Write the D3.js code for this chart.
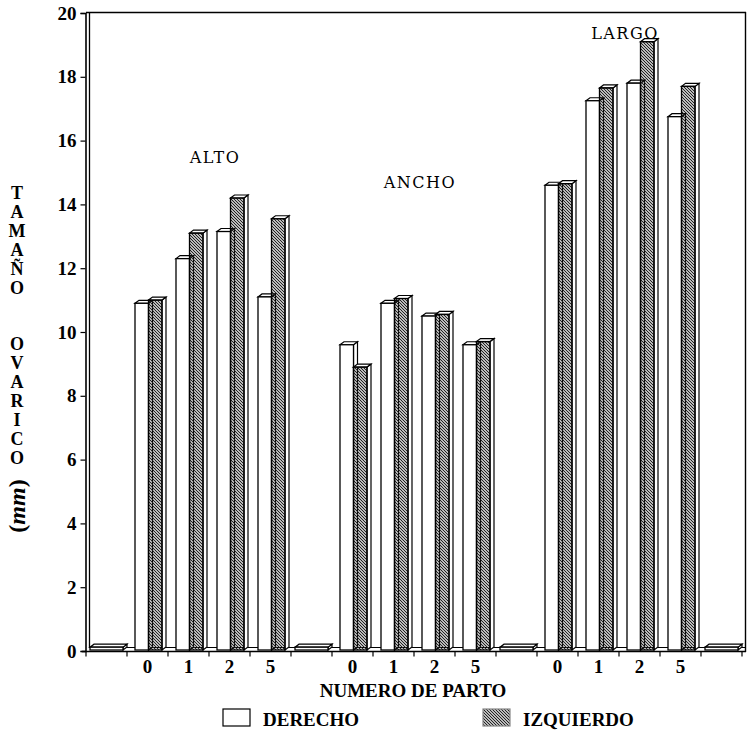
<!DOCTYPE html>
<html>
<head>
<meta charset="utf-8">
<script src="https://cdn.jsdelivr.net/npm/d3@7"></script>
<style>
  body { margin: 0; background: #fff; }
  svg { display: block; }
  .serif { font-family: "Liberation Serif", "Times New Roman", Times, serif; font-weight: bold; }
</style>
</head>
<body>
<script>
var grupos   = ["ALTO", "ANCHO", "LARGO"];
var partos   = ["0", "1", "2", "5"];
var derecho   = [10.9, 12.3, 13.15, 11.1,   9.6, 10.9, 10.5, 9.6,   14.6, 17.25, 17.8, 16.75];
var izquierdo = [11.0, 13.1, 14.2, 13.55,   8.9, 11.05, 10.55, 9.7,  14.65, 17.65, 19.1, 17.7];
var yTicks   = [0, 2, 4, 6, 8, 10, 12, 14, 16, 18, 20];
var grupoLabelAt = [15.3, 14.5, 19.2];   // height of the group captions, in mm
var gapValue = 0.12;                     // the flat boxes between groups
var series   = ["DERECHO", "IZQUIERDO"];

var W = 750, H = 742;
var depth = 4, rise = 3;

var svg = d3.select("body").append("svg")
    .attr("width", W)
    .attr("height", H);

var defs = svg.append("defs");
defs.append("pattern")
    .attr("id", "hatch")
    .attr("patternUnits", "userSpaceOnUse")
    .attr("width", 3).attr("height", 3)
    .append("path")
    .attr("d", "M-1,-1 L4,4 M-1,2 L1,4 M2,-1 L4,1")
    .attr("stroke", "#1a1a1a").attr("stroke-width", 1.15);

// slots: gap, 4 partos, gap, 4 partos, gap, 4 partos, gap
var slots = ["g0"];
grupos.forEach(function(g, i) {
  partos.forEach(function(p) { slots.push(g + "|" + p); });
  slots.push("g" + (i + 1));
});

var x0 = d3.scaleBand().domain(slots).range([86, 742]);
var x1 = d3.scaleBand().domain(series).range([8, 35]);
var y  = d3.scaleLinear().domain([0, 20]).range([651, 13]);

var rows = [];
grupos.forEach(function(g, gi) {
  partos.forEach(function(p, pi) {
    var k = gi * 4 + pi;
    rows.push({ slot: g + "|" + p, parto: p, values: [
      { s: "DERECHO", v: derecho[k] },
      { s: "IZQUIERDO", v: izquierdo[k] }
    ]});
  });
});

// frame
svg.append("line").attr("x1", 86).attr("x2", 746).attr("y1", 12.5).attr("y2", 12.5)
    .attr("stroke", "#000").attr("stroke-width", 1.6);
svg.append("line").attr("x1", 745.5).attr("x2", 745.5).attr("y1", 12).attr("y2", 652)
    .attr("stroke", "#000").attr("stroke-width", 1.4);
svg.append("line").attr("x1", 89.5).attr("x2", 89.5).attr("y1", 13).attr("y2", 648)
    .attr("stroke", "#000").attr("stroke-width", 1.3);
svg.append("line").attr("x1", 89).attr("x2", 745).attr("y1", 647.5).attr("y2", 647.5)
    .attr("stroke", "#000").attr("stroke-width", 1);

// y axis
var yAxis = d3.axisLeft(y).tickValues(yTicks).tickSize(5).tickFormat(d3.format("d"));
var gy = svg.append("g").attr("transform", "translate(85.5,0)").call(yAxis);
gy.attr("font-family", null).attr("font-size", null);
gy.select(".domain").attr("stroke-width", 1.6);
gy.selectAll(".tick line").attr("stroke-width", 1.2);
gy.selectAll("text")
    .attr("x", -9)
    .attr("class", "serif")
    .style("font-size", "19px");

// x axis: ticks on slot boundaries
var bounds = slots.map(function(s) { return x0(s); }).concat([x0.range()[1]]);
var gx = svg.append("g").attr("transform", "translate(0,651.5)");
gx.append("line").attr("x1", 82).attr("x2", 746).attr("stroke", "#000").attr("stroke-width", 1.6);
gx.selectAll(".bt").data(bounds).enter().append("line")
    .attr("x1", function(d) { return d; }).attr("x2", function(d) { return d; })
    .attr("y1", 0).attr("y2", 5)
    .attr("stroke", "#000").attr("stroke-width", 1.2);
gx.selectAll(".lbl").data(rows).enter().append("text")
    .attr("class", "serif")
    .attr("x", function(d) { return x0(d.slot) + x0.bandwidth() / 2; })
    .attr("y", 21)
    .attr("text-anchor", "middle")
    .style("font-size", "19px")
    .text(function(d) { return d.parto; });

function box(g, x, w, top, bottom, fill) {
  // right face
  g.append("path")
    .attr("d", "M" + (x + w) + "," + bottom + "L" + (x + w + depth) + "," + (bottom - rise) +
               "L" + (x + w + depth) + "," + (top - rise) + "L" + (x + w) + "," + top + "Z")
    .attr("fill", "#fff").attr("stroke", "#000").attr("stroke-width", 1.2);
  // top face
  g.append("path")
    .attr("d", "M" + x + "," + top + "L" + (x + depth) + "," + (top - rise) +
               "L" + (x + w + depth) + "," + (top - rise) + "L" + (x + w) + "," + top + "Z")
    .attr("fill", "#fff").attr("stroke", "#000").attr("stroke-width", 1.2);
  // front
  g.append("rect")
    .attr("x", x).attr("y", top).attr("width", w).attr("height", bottom - top)
    .attr("fill", fill).attr("stroke", "#000").attr("stroke-width", 1.3);
}

// flat boxes in the gaps
var gaps = slots.filter(function(s) { return s.charAt(0) === "g"; });
gaps.forEach(function(s) {
  box(svg.append("g"), x0(s) + 4, x0.bandwidth() - 8, y(gapValue), y(0) - 1, "#fff");
});

// bars
rows.forEach(function(r) {
  var g = svg.append("g").attr("transform", "translate(" + x0(r.slot) + ",0)");
  r.values.forEach(function(d) {
    box(g, x1(d.s), x1.bandwidth(), y(d.v), y(0) - 1,
        d.s === "DERECHO" ? "#fff" : "url(#hatch)");
  });
});

// group captions
grupos.forEach(function(g, i) {
  var a = x0(g + "|1"), b = x0(g + "|2") + x0.bandwidth();
  svg.append("text")
    .attr("x", (a + b) / 2 + 6)
    .attr("y", y(grupoLabelAt[i]))
    .attr("text-anchor", "middle")
    .style("font-family", "'DejaVu Serif', serif")
    .style("font-size", "16px")
    .style("letter-spacing", "1.5px")
    .text(g);
});

// axis titles
svg.append("text")
    .attr("class", "serif")
    .attr("x", 413).attr("y", 697)
    .attr("text-anchor", "middle")
    .style("font-size", "19px")
    .text("NUMERO DE PARTO");

var letras = ["T","A","M","A","Ñ","O","","","O","V","A","R","I","C","O"];
letras.forEach(function(l, i) {
  if (!l) return;
  svg.append("text")
    .attr("class", "serif")
    .attr("text-anchor", "middle")
    .attr("x", 17).attr("y", 199 + i * 18.9)
    .style("font-size", "18px")
    .text(l);
});
svg.append("text")
    .attr("class", "serif")
    .attr("transform", "translate(25,506) rotate(-90)")
    .attr("text-anchor", "middle")
    .style("font-size", "24px")
    .html("(<tspan font-style='italic'>mm</tspan>)");

// legend
var legend = svg.append("g").attr("transform", "translate(0,718)");
var legItems = [{ s: "DERECHO", x: 223 }, { s: "IZQUIERDO", x: 483 }];
legItems.forEach(function(d) {
  legend.append("rect")
    .attr("x", d.x).attr("y", -9).attr("width", 27).attr("height", 17)
    .attr("fill", d.s === "DERECHO" ? "#fff" : "url(#hatch)")
    .attr("stroke", d.s === "DERECHO" ? "#000" : "#888")
    .attr("stroke-width", 1.2);
  legend.append("text")
    .attr("class", "serif")
    .attr("x", d.x + 40).attr("y", 8)
    .style("font-size", "19px")
    .text(d.s);
});
</script>
</body>
</html>
